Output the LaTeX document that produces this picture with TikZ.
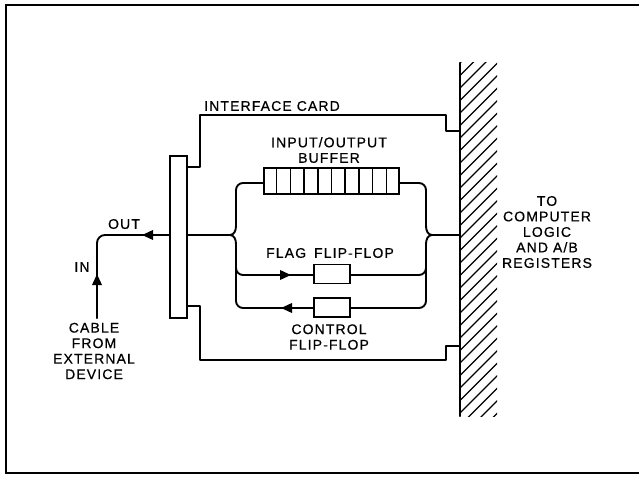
\documentclass[tikz,border=0pt]{standalone}
\usepackage{fontspec}
\setmainfont[LetterSpace=8,FakeBold=0.6]{Liberation Sans}
\usetikzlibrary{arrows.meta,calc}
\tikzset{
  wire/.style={line width=1.9pt, line cap=round, line join=round},
  box/.style={draw, line width=1.9pt, fill=white, inner sep=0pt},
  lbl/.style={font=\fontsize{14}{15.5}\selectfont, align=center, inner sep=0pt},
  tri/.style={-{Triangle[length=11pt,width=9.5pt]}},
}
\begin{document}
\begin{tikzpicture}[x=1pt,y=-1pt]
\useasboundingbox (0,0) rectangle (639,476);
% outer frame (open on the right)
\draw[line width=2.6pt] (639,5) -- (6,5) -- (6,473) -- (639,473);

% wall with hatching
\node[minimum width=37pt, minimum height=353pt, inner sep=0pt] (wall) at (478.5,239.5) {};
\begin{scope}
  \clip (wall.north west) rectangle (wall.south east);
  \foreach \k in {0,...,34} {
    \draw[line width=1.1pt] (460,63+\k*12.5) -- ++(40,-40);
  }
\end{scope}
\draw[wire] (wall.north west) -- (wall.south west);

% connector bar
\node[box, minimum width=17pt, minimum height=162pt] (bar) at (178.5,237) {};

% buffer
\node[box, minimum width=135pt, minimum height=26pt] (buf) at (331.5,181) {};
\foreach \i in {1,...,9} {
  \draw[line width=1.4pt] ($(buf.north west)!\i/10!(buf.north east)$) -- ($(buf.south west)!\i/10!(buf.south east)$);
}

% flip-flops
\node[box, minimum width=36pt, minimum height=19pt] (flag) at (332,274) {};
\node[box, minimum width=36pt, minimum height=19pt] (ctl) at (332,307.5) {};

% interface card outline
\coordinate (c1) at (446,131);
\coordinate (c2) at (446,346);
\draw[wire] (bar.east |- 0,167) -- (200,167) -- (200,115) -- (446,115) -- (c1) -- (wall.west |- c1);
\draw[wire] (bar.east |- 0,306) -- (200,306) -- (200,360) -- (446,360) -- (c2) -- (wall.west |- c2);

% main bus lines
\coordinate (lt) at (230,235);
\coordinate (rt) at (432,235);
\draw[wire] (bar.east |- lt) -- (lt);
\draw[wire] (rt) -- (wall.west |- rt);

% left brace side
\draw[wire, rounded corners=7pt] (buf.west |- 0,183) -- (236,183) -- (236,226);
\draw[wire] (236,226) to[out=-90,in=0] (lt);
\draw[wire] (lt) to[out=0,in=90] (236,244);
\draw[wire, rounded corners=7pt] (236,244) -- (236,308) -- (ctl.west |- 0,308);
\draw[wire, rounded corners=7pt] (236,262) -- (236,275) -- (flag.west |- 0,275);
\draw[wire, tri] (244,275) -- (291,275);
\draw[wire, tri] (ctl.west |- 0,308) -- (281,308);

% right brace side
\draw[wire, rounded corners=7pt] (buf.east |- 0,183) -- (426,183) -- (426,226);
\draw[wire] (426,226) to[out=-90,in=180] (rt);
\draw[wire] (rt) to[out=180,in=90] (426,244);
\draw[wire, rounded corners=7pt] (426,244) -- (426,308) -- (ctl.east |- 0,308);
\draw[wire, rounded corners=7pt] (426,262) -- (426,275) -- (flag.east |- 0,275);

% external cable
\coordinate (cab) at (97,318);
\draw[wire, rounded corners=8pt] (bar.west |- lt) -- (97,235) -- (cab);
\draw[wire, tri] (bar.west |- lt) -- (142,235);
\draw[wire, tri] (cab) -- (97,274);

% labels
\node[lbl] (tcard) at (272,106) {INTERFACE CARD};
\node[lbl] (tbuf) at (329,150) {INPUT/OUTPUT\\BUFFER};
\node[lbl] (tflag) at (330,253) {FLAG\hspace{8pt}FLIP-FLOP};
\node[lbl] (tctl) at (329,337) {CONTROL\\FLIP-FLOP};
\node[lbl] (tout) at (124,224) {OUT};
\node[lbl] (tin) at (82,267) {IN};
\node[lbl] (tcab) at (94,351) {CABLE\\FROM\\EXTERNAL\\DEVICE};
\node[lbl] (tcomp) at (547,232) {TO\\COMPUTER\\LOGIC\\AND A/B\\REGISTERS};
\end{tikzpicture}
\end{document}
